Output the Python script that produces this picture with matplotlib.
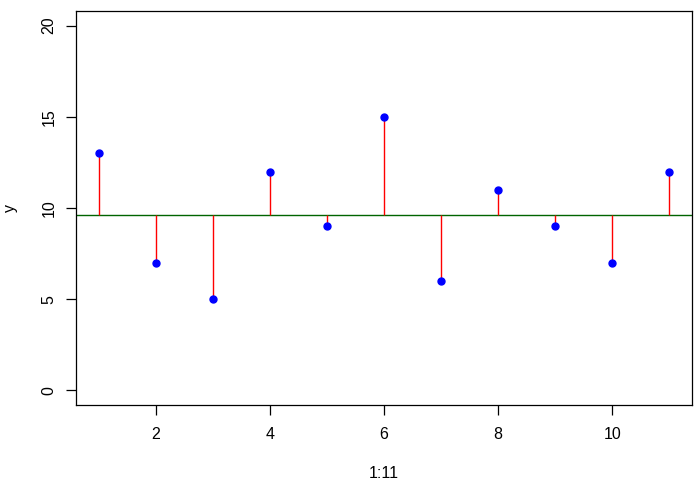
import numpy as np
import matplotlib.pyplot as plt

plt.rcParams['font.family'] = ['Liberation Sans', 'DejaVu Sans']

# data
x = np.arange(1, 12)
y = [13, 7, 5, 12, 9, 15, 6, 11, 9, 7, 12]
y_mean = np.mean(y)

fig = plt.figure(figsize=(7, 4.84), dpi=100)
ax = fig.add_axes([76 / 700, 1 - 405 / 484, 616 / 700, 394 / 484])

ax.axhline(y_mean, color='#006400', lw=1.0, zorder=1)
ax.vlines(x, y_mean, y, color='red', lw=1.0, zorder=2)
ax.plot(x, y, 'o', color='blue', ms=5, zorder=3)

ax.set_xlim(0.6, 11.4)
ax.set_ylim(-0.8, 20.8)
ax.set_xticks([2, 4, 6, 8, 10])
ax.set_yticks([0, 5, 10, 15, 20])
ax.tick_params(direction='out', length=7, width=0.9, labelsize=11.5, pad=7)
ax.tick_params(axis='x', pad=9)
for lab in ax.get_yticklabels():
    lab.set_rotation(90)
    lab.set_va('center')
for s in ax.spines.values():
    s.set_linewidth(0.9)

ax.set_xlabel('1:11', fontsize=11.5, labelpad=17)
ax.set_ylabel('y', fontsize=11.5, labelpad=17)

fig.savefig('out.png', dpi=100)
